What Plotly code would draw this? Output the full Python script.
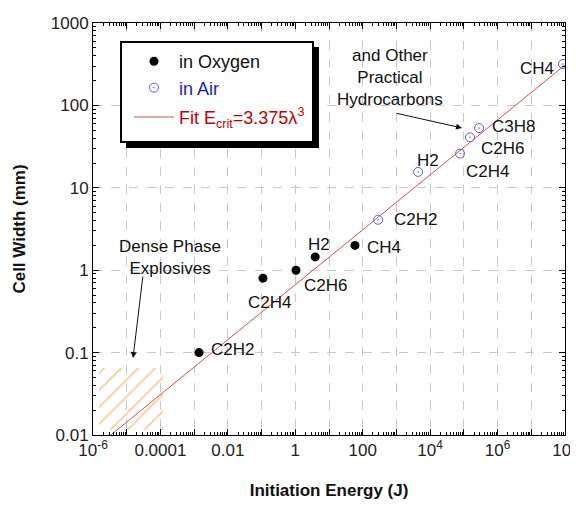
import numpy as np
import plotly.graph_objects as go

# ---- data ----
oxy_names = ["C2H2", "C2H4", "C2H6", "H2", "CH4"]
oxy_energy = [0.0014, 0.11, 1.05, 3.9, 59]
oxy_width = [0.1, 0.8, 1.0, 1.45, 2.0]

air_names = ["C2H2", "H2", "C2H4", "C2H6", "C3H8", "CH4"]
air_energy = [285, 4400, 77000, 152000, 282000, 8.7e7]
air_width = [4.1, 15.6, 26, 41, 53, 318]

fit_coef = 3.375
fit_width_range = [0.01, 309]
fit_width = fit_width_range
fit_energy = [fit_coef * w ** 3 for w in fit_width]

dense_energy = [1.5e-6, 1.2e-4]
dense_width = [0.0115, 0.065]

x_tickvals = [10.0 ** k for k in range(-6, 9)]
x_ticktext = ["10<sup>-6</sup>", "", "0.0001", "", "0.01", "", "1", "", "100", "",
              "10<sup>4</sup>", "", "10<sup>6</sup>", "", "10<sup>8</sup>"]
y_tickvals = [0.01, 0.1, 1, 10, 100, 1000]
y_ticktext = ["0.01", "0.1", "1", "10", "100", "1000"]

x_minor = [m * 10.0 ** k for k in range(-6, 8) for m in range(2, 10)]
y_minor = [m * 10.0 ** k for k in range(-2, 3) for m in range(2, 10)]

# label offsets (pixels) for point labels
oxy_label_off = [(10, 3, "left"), (7, -24, "center"), (29, -15, "center"),
                 (4, 12, "center"), (10, -2, "left")]
air_label_off = [(14, 0, "left"), (10, 11, "center"), (27, -18, "center"),
                 (33, -11, "center"), (34, 2, "center"), (-26, -4, "center")]

FONT = "Liberation Sans, Arial, sans-serif"
fig = go.Figure()

# hatched dense-phase region
fig.add_trace(go.Scatter(
    x=[dense_energy[0], dense_energy[1], dense_energy[1], dense_energy[0], dense_energy[0]],
    y=[dense_width[0], dense_width[0], dense_width[1], dense_width[1], dense_width[0]],
    mode="lines", fill="toself", line=dict(width=0, color="rgba(0,0,0,0)"),
    fillcolor="rgba(0,0,0,0)",
    fillpattern=dict(shape="/", fgcolor="#F0963C", bgcolor="rgba(255,255,255,0)",
                     size=12, solidity=0.15),
    showlegend=False, hoverinfo="skip"))

fig.add_trace(go.Scatter(
    x=oxy_energy, y=oxy_width, mode="markers", name="in Oxygen",
    marker=dict(symbol="circle", size=9, color="black"), legendgroup="a"))
fig.add_trace(go.Scatter(
    x=air_energy, y=air_width, mode="markers",
    name="<span style='color:#1a1acc'>in Air</span>",
    marker=dict(symbol="circle-open-dot", size=9, color="#5a5ae0", line=dict(width=1)),
    legendgroup="a"))
fig.add_trace(go.Scatter(
    x=fit_energy, y=fit_width, mode="lines",
    name="<span style='color:#c00000'>Fit E<sub>crit</sub>=3.375λ<sup>3</sup></span>",
    line=dict(color="#c85050", width=1), legendgroup="b"))

annotations = []
for n, e, w, (dx, dy, anc) in zip(oxy_names, oxy_energy, oxy_width, oxy_label_off):
    annotations.append(dict(x=np.log10(e), y=np.log10(w), text=n, showarrow=False,
                            xanchor=anc, yanchor="middle", xshift=dx, yshift=dy,
                            font=dict(size=17, color="#111", family=FONT)))
for n, e, w, (dx, dy, anc) in zip(air_names, air_energy, air_width, air_label_off):
    annotations.append(dict(x=np.log10(e), y=np.log10(w), text=n, showarrow=False,
                            xanchor=anc, yanchor="middle", xshift=dx, yshift=dy,
                            font=dict(size=17, color="#111", family=FONT)))

annotations.append(dict(x=2.81, y=2.333, text="and Other<br>Practical<br>Hydrocarbons",
                        showarrow=False, xanchor="center", yanchor="middle",
                        font=dict(size=17, color="#111", family=FONT)))
annotations.append(dict(x=4.946, y=1.726, text="", showarrow=True, ax=-67, ay=-15,
                        arrowhead=2, arrowsize=1.2, arrowwidth=1, arrowcolor="#111"))
annotations.append(dict(x=-3.716, y=0.16, text="Dense Phase<br>Explosives",
                        showarrow=False, xanchor="center", yanchor="middle",
                        font=dict(size=17, color="#111", family=FONT)))
annotations.append(dict(x=-4.813, y=-1.066, text="", showarrow=True, ax=10, ay=-83,
                        arrowhead=2, arrowsize=1.2, arrowwidth=1, arrowcolor="#111"))

axis_common = dict(type="log", showline=True, linecolor="black", linewidth=1, mirror="ticks",
                   ticks="inside", ticklen=6, tickcolor="black", automargin=False,
                   showgrid=True, gridcolor="#c8c8c8", griddash="dash", gridwidth=1,
                   zeroline=False,
                   tickfont=dict(size=17, color="#222", family=FONT))

fig.update_xaxes(**axis_common, range=[-6, 8], tickmode="array", tickvals=x_tickvals,
                 ticktext=x_ticktext,
                 minor=dict(ticks="inside", ticklen=3, tickcolor="black", showgrid=False,
                            tickmode="array", tickvals=x_minor),
                 title=dict(text="<b>Initiation Energy (J)</b>", standoff=24,
                            font=dict(size=17, color="#111", family=FONT)))
fig.update_yaxes(**axis_common, range=[-2, 3], tickmode="array", tickvals=y_tickvals,
                 ticktext=y_ticktext,
                 minor=dict(ticks="inside", ticklen=3, tickcolor="black", showgrid=False,
                            tickmode="array", tickvals=y_minor),
                 title=dict(text="<b>Cell Width (mm)</b>", standoff=20,
                            font=dict(size=17, color="#111", family=FONT)))

L, T, W, H = 85, 15, 472, 412


def px_x(p):
    return (p - 93) / W


def px_y(p):
    return (435 - p) / H


# legend box + shadow
fig.add_shape(type="rect", xref="paper", yref="paper",
              x0=px_x(126), x1=px_x(319), y0=px_y(148), y1=px_y(47),
              fillcolor="black", line=dict(width=0), layer="above")
fig.add_shape(type="rect", xref="paper", yref="paper",
              x0=px_x(121), x1=px_x(313), y0=px_y(142), y1=px_y(42),
              fillcolor="white", line=dict(width=2, color="black"), layer="above")

fig.update_layout(
    width=578, height=506,
    margin=dict(l=L, r=578 - L - W, t=T, b=506 - T - H, autoexpand=False),
    paper_bgcolor="white", plot_bgcolor="white",
    annotations=annotations,
    legend=dict(x=px_x(129), y=px_y(43), xanchor="left", yanchor="top",
                bgcolor="rgba(0,0,0,0)", borderwidth=0,
                font=dict(size=18, color="#111", family=FONT),
                tracegroupgap=3, itemwidth=40),
    font=dict(family=FONT),
)

fig.write_html("out.html")
